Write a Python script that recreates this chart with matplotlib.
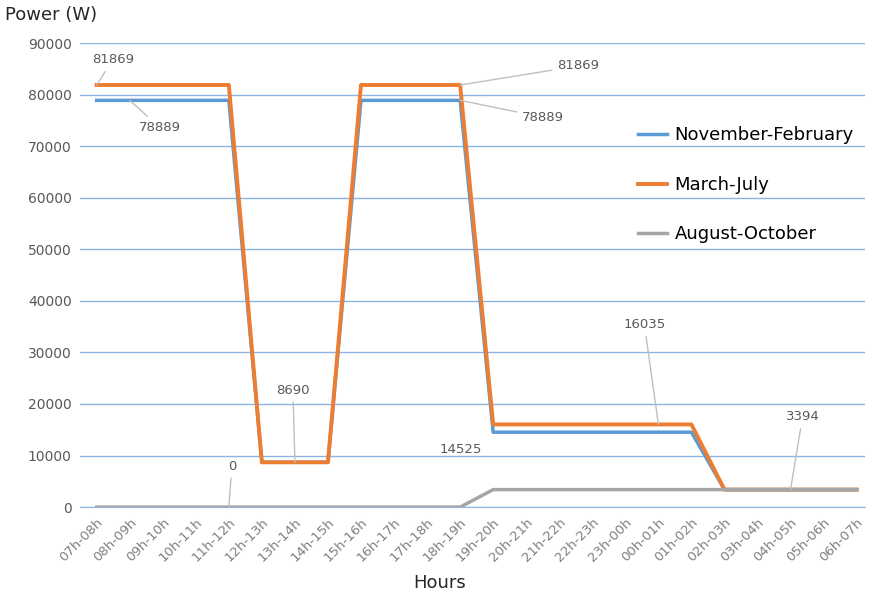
import matplotlib.pyplot as plt

# hourly slots, 07h to 07h next day
hours = ['07h-08h', '08h-09h', '09h-10h', '10h-11h', '11h-12h', '12h-13h',
         '13h-14h', '14h-15h', '15h-16h', '16h-17h', '17h-18h', '18h-19h',
         '19h-20h', '20h-21h', '21h-22h', '22h-23h', '23h-00h', '00h-01h',
         '01h-02h', '02h-03h', '03h-04h', '04h-05h', '05h-06h', '06h-07h']

nov_feb = [78889, 78889, 78889, 78889, 78889, 8690, 8690, 8690,
           78889, 78889, 78889, 78889, 14525, 14525, 14525, 14525,
           14525, 14525, 14525, 3394, 3394, 3394, 3394, 3394]
mar_jul = [81869, 81869, 81869, 81869, 81869, 8690, 8690, 8690,
           81869, 81869, 81869, 81869, 16035, 16035, 16035, 16035,
           16035, 16035, 16035, 3394, 3394, 3394, 3394, 3394]
aug_oct = [0, 0, 0, 0, 0, 0, 0, 0, 0, 0, 0, 0,
           3394, 3394, 3394, 3394, 3394, 3394, 3394, 3394,
           3394, 3394, 3394, 3394]

yticks = [0, 10000, 20000, 30000, 40000, 50000, 60000, 70000, 80000, 90000]

BLUE = '#5b9bd5'
ORANGE = '#ed7d31'
GRAY = '#a5a5a5'
TXT = '#595959'

fig = plt.figure(figsize=(8.71, 5.98), dpi=100)
ax = fig.add_axes([0.092, 0.152, 0.901, 0.776])

x = list(range(len(hours)))
ax.plot(x, nov_feb, color=BLUE, linewidth=2.5, label='November-February', zorder=3)
ax.plot(x, mar_jul, color=ORANGE, linewidth=2.8, label='March-July', zorder=4)
ax.plot(x, aug_oct, color=GRAY, linewidth=2.5, label='August-October', zorder=5)

ax.set_xlim(-0.5, 23.25)
ax.set_ylim(0, 90000)
ax.set_yticks(yticks)
ax.set_yticklabels([str(v) for v in yticks], fontsize=10, color=TXT)
ax.set_xticks(x)
ax.set_xticklabels(hours, rotation=45, ha='right', rotation_mode='anchor',
                   fontsize=9.5, color='#7f7f7f')
ax.tick_params(length=0, pad=6)
ax.grid(axis='y', color='#8db4e2', linewidth=1)
ax.set_axisbelow(True)
for s in ['top', 'right', 'left']:
    ax.spines[s].set_visible(False)
ax.spines['bottom'].set_color('#8db4e2')

# data labels with leader lines
lead = dict(arrowstyle='-', color='#bfbfbf', linewidth=1, shrinkA=2, shrinkB=0)
labels = [
    (mar_jul, 0, (16, 25), True),
    (nov_feb, 1, (30, -27), True),
    (mar_jul, 6, (-2, 72), True),
    (aug_oct, 4, (3, 41), True),
    (mar_jul, 11, (118, 19), True),
    (nov_feb, 11, (83, -17), True),
    (nov_feb, 12, (-32, -17), False),
    (mar_jul, 17, (-14, 100), True),
    (aug_oct, 21, (12, 73), True),
]
for series, i, off, line in labels:
    ax.annotate(str(series[i]), xy=(i, series[i]), xytext=off,
                textcoords='offset pixels', ha='center', va='center',
                fontsize=9.5, color=TXT, zorder=6,
                arrowprops=lead if line else None)

ax.legend(loc='upper left', bbox_to_anchor=(622 / 871, 1 - 110 / 598),
          bbox_transform=fig.transFigure, frameon=False, fontsize=13,
          handlelength=1.6, labelspacing=1.75, handletextpad=0.4)

fig.text(5 / 871, 1 - 15 / 598, 'Power (W)', fontsize=13, color='#262626',
         va='center', ha='left')
fig.text(440 / 871, 1 - 583 / 598, 'Hours', fontsize=13, color='#262626',
         va='center', ha='center')

fig.savefig('out.png', dpi=100)
